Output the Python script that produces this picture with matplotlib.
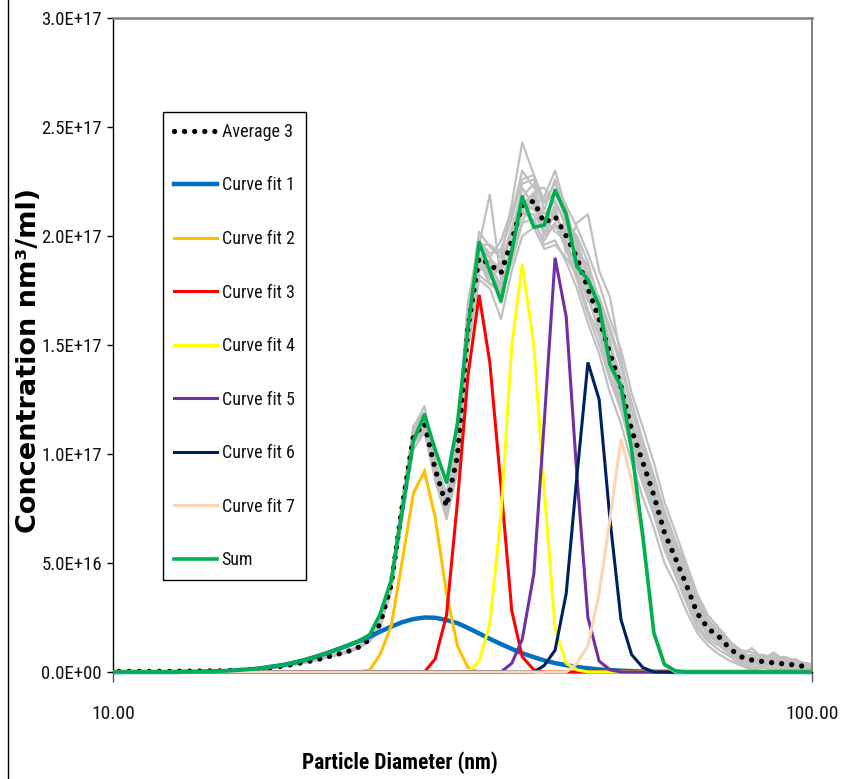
import numpy as np
import matplotlib
matplotlib.use("Agg")
import matplotlib.pyplot as plt
from matplotlib import font_manager
from matplotlib.lines import Line2D
from matplotlib.patches import Rectangle
from matplotlib.ticker import FixedLocator, FixedFormatter, NullLocator

# ---------------- data (concentration values in units of 1E+16 nm3/ml) ----------------
diameter_nm = [9.82, 10.2, 10.6, 10.9, 11.3, 11.8, 12.2, 12.6, 13.1, 13.6, 14.1, 14.6,
               15.1, 15.7, 16.3, 16.8, 17.5, 18.1, 18.8, 19.5, 20.2, 20.9, 21.7, 22.5,
               23.3, 24.1, 25.0, 25.9, 26.9, 27.9, 28.9, 30.0, 31.1, 32.2, 33.4, 34.6,
               35.9, 37.2, 38.5, 40.0, 41.4, 42.9, 44.5, 46.1, 47.8, 49.6, 51.4, 53.3,
               55.2, 57.3, 59.4, 61.5, 63.8, 66.1, 68.5, 71.0, 73.7, 76.4, 79.1, 82.0,
               85.1, 88.2, 91.4, 94.7, 98.2, 101.8]

average_3 = [0.03, 0.03, 0.03, 0.03, 0.03, 0.03, 0.03, 0.04, 0.04, 0.05, 0.05,
             0.06, 0.07, 0.1, 0.15, 0.2, 0.27, 0.35, 0.45, 0.55, 0.68, 0.8, 0.95, 1.15, 1.5,
             2.2, 4.0, 7.5, 10.8, 11.4, 9.3, 7.6, 9.9, 15.8, 19.0, 18.7, 18.3,
             19.8, 21.4, 21.6, 20.6, 20.9, 20.0, 19.0, 17.6, 16.2, 14.6, 13.1, 11.1,
             9.6, 8.1, 6.4, 5.2, 4.0, 2.7, 2.0, 1.6, 1.05, 0.7, 0.55, 0.48, 0.42, 0.37,
             0.32, 0.24, 0.2]

curve_fit_1 = [0, 0, 0, 0, 0, 0, 0, 0.01, 0.01,
               0.02, 0.03, 0.05, 0.08, 0.12, 0.17, 0.24, 0.32, 0.42, 0.55, 0.70, 0.86,
               1.03, 1.22, 1.42, 1.62,
               1.85, 2.08, 2.28, 2.43, 2.50, 2.49, 2.38, 2.24, 2.02, 1.77, 1.52, 1.28,
               1.06, 0.86, 0.68, 0.53, 0.41, 0.31, 0.23, 0.17, 0.12, 0.09, 0.06, 0.04, 0.02,
               0.01, 0.01, 0, 0, 0, 0, 0, 0, 0, 0, 0, 0, 0, 0, 0, 0]

curve_fit_2 = [0] * 24 + [0.1, 0.8, 2.1, 5.0, 8.2, 9.2, 7.1, 3.6, 1.2, 0.2] + [0] * 32
curve_fit_3 = [0] * 30 + [0.6, 2.6, 7.8, 13.6, 17.3, 14.2, 8.5, 2.8, 0.7, 0.1] + [0] * 26
curve_fit_4 = [0] * 34 + [0.5, 2.2, 7.2, 15.0, 18.7, 15.0, 8.3, 2.0, 0.4, 0.1] + [0] * 22
curve_fit_5 = [0] * 37 + [0.4, 1.5, 4.5, 11.5, 19.0, 16.3, 9.0, 2.5, 0.5, 0.1] + [0] * 19
curve_fit_6 = [0] * 40 + [0.3, 1.0, 3.6, 9.0, 14.2, 12.5, 7.0, 2.4, 0.8, 0.2] + [0] * 16
curve_fit_7 = [0] * 43 + [0.4, 1.2, 3.6, 7.0, 10.7, 8.8, 6.0, 1.7, 0.3] + [0] * 14

sum_fit = [0, 0, 0, 0, 0, 0, 0, 0.01, 0.01,
           0.02, 0.03, 0.05, 0.08, 0.12, 0.17, 0.24, 0.32, 0.42, 0.55, 0.70, 0.86,
           1.03, 1.22, 1.42, 1.72,
           2.65, 4.2, 7.3, 10.6, 11.8, 10.2, 8.7, 11.4, 15.8, 19.7, 18.4, 17.0,
           19.3, 21.8, 20.4, 20.5, 22.1, 21.0, 18.6, 18.0, 16.8, 14.1, 13.1, 10.2,
           6.2, 1.8, 0.35, 0.05, 0, 0, 0, 0, 0, 0, 0, 0, 0, 0, 0, 0, 0]

# individual measurements (grey), starting at 15.7 nm
replicate_first = 13
replicates = [
    [0.1, 0.15, 0.21, 0.28, 0.36, 0.47, 0.57, 0.70, 0.83, 0.98, 1.2, 1.6,
     2.3, 4.2, 7.8, 11.2, 12.2, 9.8, 8.0, 10.4, 16.5, 20.2, 19.5, 19.0,
     21.5, 24.3, 22.8, 21.5, 22.0, 20.8, 19.8, 18.2, 16.8, 15.0, 13.6, 11.5,
     10.2, 8.4, 6.8, 5.5, 4.3, 3.0, 2.2, 1.8, 1.2, 0.8, 0.7, 0.6, 0.5, 0.4, 0.4, 0.3, 0.2],
    [0.1, 0.14, 0.19, 0.26, 0.34, 0.44, 0.54, 0.67, 0.79, 0.93, 1.1, 1.45,
     2.1, 3.9, 7.3, 10.6, 11.6, 9.6, 7.9, 10.8, 17.0, 19.6, 21.9, 18.0,
     19.0, 20.6, 22.0, 20.0, 21.2, 19.6, 18.6, 17.0, 16.8, 15.2, 13.0, 10.6,
     9.0, 7.8, 6.0, 5.0, 4.4, 2.8, 1.6, 1.4, 1.0, 0.9, 0.5, 0.3, 0.6, 0.4, 0.2, 0.3, 0.1],
    [0.09, 0.14, 0.19, 0.25, 0.33, 0.43, 0.52, 0.65, 0.77, 0.9, 1.1, 1.4,
     2.0, 3.7, 7.0, 10.2, 11.0, 8.8, 7.0, 9.2, 14.8, 18.0, 17.6, 16.2,
     18.4, 20.0, 20.4, 19.4, 19.6, 19.0, 18.2, 16.6, 15.4, 13.6, 12.2, 10.2,
     8.8, 7.4, 5.8, 4.6, 3.4, 2.2, 1.5, 1.2, 0.8, 0.5, 0.4, 0.3, 0.3, 0.2, 0.3, 0.1, 0.0],
    [0.11, 0.16, 0.21, 0.28, 0.36, 0.46, 0.56, 0.69, 0.81, 0.96, 1.17, 1.52,
     2.2, 4.1, 7.6, 11.0, 11.7, 9.4, 7.6, 9.6, 15.6, 18.8, 18.0, 18.6,
     20.2, 22.2, 21.4, 21.8, 23.0, 21.2, 19.4, 18.6, 16.0, 14.6, 13.4, 11.6,
     9.8, 8.6, 6.9, 5.6, 4.1, 3.1, 2.4, 1.9, 1.3, 0.9, 0.6, 0.7, 0.5, 0.5, 0.4, 0.2, 0.3],
    [0.1, 0.15, 0.2, 0.27, 0.35, 0.45, 0.55, 0.68, 0.8, 0.95, 1.15, 1.5,
     2.2, 4.0, 7.4, 10.9, 11.3, 9.2, 7.4, 9.8, 15.2, 18.6, 18.9, 17.4,
     19.6, 21.0, 21.0, 20.2, 20.4, 20.6, 19.6, 17.2, 15.8, 14.2, 12.6, 11.0,
     9.4, 7.8, 6.5, 5.4, 3.8, 2.6, 1.9, 1.5, 1.1, 0.6, 0.5, 0.6, 0.4, 0.3, 0.4, 0.3, 0.2],
    [0.1, 0.15, 0.2, 0.27, 0.35, 0.45, 0.55, 0.68, 0.8, 0.95, 1.15, 1.5,
     2.2, 3.9, 7.5, 10.7, 11.5, 9.0, 7.3, 10.2, 16.2, 19.2, 18.4, 18.8,
     20.4, 21.8, 22.4, 20.4, 21.4, 19.2, 20.6, 21.0, 18.4, 17.2, 14.4, 12.0,
     10.4, 8.8, 7.2, 5.8, 4.6, 3.2, 2.3, 1.6, 1.0, 0.7, 1.1, 0.6, 0.7, 0.5, 0.4, 0.3, 0.2],
    [0.1, 0.15, 0.2, 0.27, 0.35, 0.45, 0.55, 0.68, 0.8, 0.95, 1.15, 1.5,
     2.3, 4.0, 7.6, 11.0, 11.8, 9.5, 7.8, 9.6, 15.4, 19.0, 18.6, 17.8,
     19.2, 21.6, 21.2, 20.8, 20.2, 19.8, 18.4, 17.6, 16.4, 14.4, 13.0, 11.4,
     9.4, 8.2, 6.2, 4.8, 3.8, 2.4, 1.8, 1.7, 0.9, 0.4, 0.3, 0.5, 0.3, 0.4, 0.2, 0.3, 0.2],
    [0.1, 0.14, 0.2, 0.27, 0.35, 0.45, 0.55, 0.68, 0.8, 0.95, 1.15, 1.5,
     2.1, 4.0, 7.2, 10.6, 11.2, 9.0, 7.6, 10.0, 16.0, 18.4, 18.8, 18.6,
     20.0, 21.2, 21.8, 21.0, 21.6, 20.4, 18.8, 17.8, 16.2, 15.0, 12.8, 11.2,
     9.6, 8.0, 6.6, 5.2, 4.0, 2.8, 2.1, 1.6, 1.2, 0.8, 0.6, 0.4, 0.5, 0.6, 0.3, 0.2, 0.3],
    [0.1, 0.15, 0.2, 0.27, 0.35, 0.45, 0.55, 0.68, 0.8, 0.95, 1.15, 1.5,
     2.2, 4.1, 7.7, 10.9, 11.6, 9.3, 7.2, 9.4, 15.0, 19.4, 19.0, 18.4,
     19.4, 21.4, 22.0, 20.6, 20.8, 20.2, 19.2, 17.4, 15.6, 14.0, 13.0, 10.8,
     9.2, 7.8, 6.4, 5.0, 3.8, 2.6, 1.8, 1.4, 1.1, 0.7, 0.6, 0.5, 0.4, 0.3, 0.4, 0.3, 0.2],
    [0.1, 0.15, 0.2, 0.27, 0.35, 0.45, 0.55, 0.68, 0.8, 0.95, 1.15, 1.5,
     2.2, 4.0, 7.5, 10.8, 11.4, 9.4, 7.7, 10.1, 15.9, 19.0, 18.2, 18.6,
     20.2, 21.6, 21.6, 20.2, 21.0, 20.0, 19.2, 17.8, 16.4, 14.8, 13.2, 11.2,
     9.8, 8.2, 6.6, 5.3, 4.2, 3.0, 2.1, 1.6, 1.0, 0.6, 0.8, 0.4, 0.4, 0.5, 0.3, 0.4, 0.1],
    [0.1, 0.15, 0.2, 0.27, 0.36, 0.46, 0.56, 0.69, 0.82, 0.97, 1.18, 1.55,
     2.3, 4.1, 7.6, 11.1, 11.9, 9.6, 8.2, 10.6, 16.8, 19.8, 19.2, 19.4,
     20.8, 22.6, 22.8, 21.6, 22.4, 21.4, 20.4, 19.2, 17.8, 16.2, 14.8, 12.8,
     11.2, 9.6, 7.8, 6.4, 5.0, 3.6, 2.6, 2.0, 1.4, 1.0, 0.9, 0.7, 0.8, 0.6, 0.5, 0.4, 0.3],
    [0.1, 0.14, 0.19, 0.26, 0.34, 0.44, 0.54, 0.66, 0.78, 0.93, 1.12, 1.45,
     2.1, 3.8, 7.2, 10.5, 11.1, 9.0, 7.3, 9.3, 15.0, 18.2, 17.8, 17.4,
     18.8, 20.6, 20.8, 19.6, 19.8, 18.8, 17.6, 16.0, 14.6, 12.8, 11.4, 9.6,
     8.0, 6.6, 5.0, 4.0, 2.8, 1.8, 1.2, 0.8, 0.5, 0.3, 0.1, 0.2, 0.1, 0.2, 0.1, 0.1, 0.0],
    [0.1, 0.15, 0.2, 0.27, 0.35, 0.45, 0.55, 0.68, 0.8, 0.95, 1.15, 1.5,
     2.2, 4.0, 7.5, 10.9, 11.6, 9.2, 7.5, 10.3, 16.6, 19.6, 19.6, 19.2,
     21.0, 23.0, 22.2, 22.2, 21.6, 20.6, 20.0, 18.8, 17.0, 15.6, 14.0, 12.4,
     10.6, 9.0, 7.4, 6.0, 4.8, 3.4, 2.4, 1.8, 1.3, 0.9, 0.7, 0.8, 0.6, 0.7, 0.5, 0.4, 0.3],
    [0.1, 0.15, 0.2, 0.27, 0.35, 0.45, 0.55, 0.68, 0.8, 0.95, 1.15, 1.5,
     2.2, 3.9, 7.4, 10.7, 11.2, 9.1, 7.1, 9.5, 15.4, 18.6, 18.2, 17.6,
     19.0, 21.2, 20.6, 19.8, 20.6, 19.4, 18.0, 16.4, 15.0, 13.4, 12.0, 10.2,
     8.6, 7.2, 5.6, 4.4, 3.2, 2.0, 1.4, 1.0, 0.7, 0.3, 0.2, 0.3, 0.2, 0.1, 0.2, 0.0, 0.1],
    [0.1, 0.15, 0.2, 0.27, 0.35, 0.45, 0.55, 0.68, 0.8, 0.95, 1.15, 1.5,
     2.3, 4.2, 7.7, 11.3, 11.9, 9.7, 7.9, 10.6, 16.4, 19.8, 19.0, 19.8,
     21.2, 22.4, 22.6, 21.2, 22.6, 20.8, 19.8, 18.0, 17.2, 15.8, 14.2, 12.0,
     10.4, 8.6, 7.0, 5.8, 4.4, 3.2, 2.4, 1.7, 1.2, 0.8, 0.6, 0.6, 0.9, 0.5, 0.6, 0.3, 0.3],
    [0.1, 0.15, 0.2, 0.27, 0.35, 0.45, 0.55, 0.68, 0.8, 0.95, 1.15, 1.5,
     2.1, 3.8, 7.1, 10.5, 11.0, 9.0, 7.4, 9.7, 15.5, 18.8, 17.8, 17.8,
     19.6, 21.0, 21.4, 20.0, 20.6, 19.4, 18.2, 17.2, 15.6, 14.0, 12.4, 10.6,
     9.0, 7.6, 6.0, 4.8, 3.6, 2.4, 1.7, 1.3, 0.9, 0.5, 0.4, 0.3, 0.4, 0.3, 0.2, 0.2, 0.1],
]

fit_labels = ["Curve fit 1", "Curve fit 2", "Curve fit 3", "Curve fit 4",
              "Curve fit 5", "Curve fit 6", "Curve fit 7"]
y_ticks = [0.0, 5e16, 1e17, 1.5e17, 2e17, 2.5e17, 3e17]
y_tick_labels = ["0.0E+00", "5.0E+16", "1.0E+17", "1.5E+17", "2.0E+17", "2.5E+17", "3.0E+17"]
x_ticks = [10, 100]
x_tick_labels = ["10.00", "100.00"]
x_title = "Particle Diameter (nm)"
y_title = "Concentration nm\u00b3/ml)"

# ---------------- style ----------------
unit = 1e16
fit_colors = ["#0070C0", "#FFC000", "#FF0000", "#FFFF00", "#7030A0", "#002060", "#FCD5B5"]
fit_widths = [3.2, 2.2, 2.2, 2.2, 2.2, 2.2, 2.2]

available = {f.name for f in font_manager.fontManager.ttflist}
narrow = None
for cand in ["Liberation Sans Narrow", "Roboto Condensed", "Liberation Sans"]:
    if cand in available:
        narrow = cand
        break
scale = 1.0 if narrow != "Liberation Sans" else 0.85
plt.rcParams["font.family"] = [narrow, "DejaVu Sans"]

W, H = 846, 779
fig = plt.figure(figsize=(W / 100, H / 100), dpi=100)
L, R, T, B = 113, 812, 18, 672
ax = fig.add_axes([L / W, 1 - B / H, (R - L) / W, (B - T) / H])
ax.set_xscale("log")
ax.set_xlim(10, 100)
ax.set_ylim(0, 3e17)

clip = Rectangle((0, -0.02), 1, 1.04, transform=ax.transAxes, facecolor="none", edgecolor="none")
ax.add_artist(clip)
clip.set_visible(False)

x = np.array(diameter_nm)

for rep in replicates:
    ln, = ax.plot(x[replicate_first:], np.array(rep) * unit, color="#C0C0C0", lw=1.6, zorder=1)
    ln.set_clip_path(clip)

avg_line, = ax.plot(x[1:-1], np.array(average_3[1:-1]) * unit, color="black", lw=3.8,
                    linestyle=(0, (0.01, 1.9)), dash_capstyle="round", zorder=2,
                    label="Average 3")
avg_line.set_clip_path(clip)

fits = [curve_fit_1, curve_fit_2, curve_fit_3, curve_fit_4, curve_fit_5, curve_fit_6, curve_fit_7]
handles = [avg_line]
for vals, col, lw, lab in zip(fits, fit_colors, fit_widths, fit_labels):
    ln, = ax.plot(x, np.array(vals) * unit, color=col, lw=lw, zorder=3, label=lab,
                  solid_joinstyle="miter")
    ln.set_clip_path(clip)
    handles.append(ln)

sum_line, = ax.plot(x, np.array(sum_fit) * unit, color="#00B050", lw=2.6, zorder=4, label="Sum")
sum_line.set_clip_path(clip)
handles.append(sum_line)

# axes styling
ax.spines["top"].set_color("#808080")
ax.spines["top"].set_linewidth(1.8)
ax.spines["right"].set_color("#808080")
ax.spines["right"].set_linewidth(1.4)
ax.spines["left"].set_color("black")
ax.spines["left"].set_linewidth(1.0)
ax.spines["bottom"].set_color("black")
ax.spines["bottom"].set_linewidth(1.0)

ax.yaxis.set_major_locator(FixedLocator(y_ticks))
ax.yaxis.set_major_formatter(FixedFormatter(y_tick_labels))
ax.xaxis.set_major_locator(FixedLocator(x_ticks))
ax.xaxis.set_major_formatter(FixedFormatter(x_tick_labels))
ax.xaxis.set_minor_locator(NullLocator())
ax.yaxis.set_minor_locator(NullLocator())
ax.tick_params(axis="y", direction="out", length=4, width=1, pad=4,
               labelsize=13.5 * scale, colors="black", labelcolor="#111111")
ax.tick_params(axis="x", direction="out", length=7, width=1, pad=17,
               labelsize=14 * scale, colors="#555555", labelcolor="#111111")

leg = ax.legend(handles=handles, loc="upper left",
                bbox_to_anchor=(163 / W, 1 - 112 / H), bbox_transform=fig.transFigure,
                frameon=True, fancybox=False, shadow=False, edgecolor="black",
                framealpha=1, borderpad=0.6, labelspacing=1.97, handlelength=2.4,
                handletextpad=0.25, borderaxespad=0, fontsize=13 * scale)
leg.get_frame().set_linewidth(1.0)
for t in leg.get_texts():
    t.set_color("#111111")

fig.text(400 / W, 1 - 763 / H, x_title, ha="center", va="center",
         fontsize=15.5 * scale, fontweight="bold", color="#000000")
fig.text(29 / W, 1 - 360 / H, y_title, ha="center", va="center", rotation=90,
         fontsize=19.5, fontweight="bold", color="#000000", family=["DejaVu Sans"])

fig.add_artist(Line2D([8 / W, 8 / W], [0, 1], transform=fig.transFigure, color="black", lw=1.0))

fig.savefig("out.png", dpi=100, facecolor="white")
